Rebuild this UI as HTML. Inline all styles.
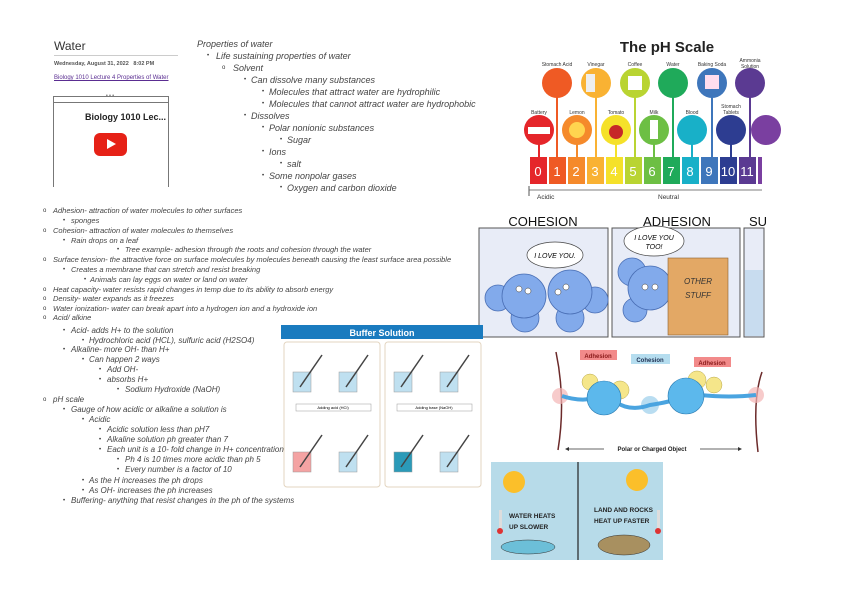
<!DOCTYPE html>
<html><head><meta charset="utf-8"><style>
body{margin:0;width:842px;height:595px;background:#fff;position:relative;overflow:hidden;font-family:"Liberation Sans",sans-serif}
.t{position:absolute;font-size:7.5px;line-height:10px;white-space:nowrap;color:#444;font-style:italic}
.top .t{font-size:9px;line-height:10px}
.low .t{font-size:8px}
.b{position:absolute;font-size:6px;line-height:10px;color:#333}
</style></head><body>
<div style="position:absolute;left:54px;top:39px;font-size:12px;color:#333">Water</div>
<div style="position:absolute;left:54px;top:55px;width:124px;height:1px;background:#ccc"></div>
<div style="position:absolute;left:54px;top:61px;font-size:5.5px;font-weight:bold;color:#555">Wednesday, August 31, 2022 &nbsp;&nbsp;8:02 PM</div>
<div style="position:absolute;left:54px;top:74px;font-size:6px;line-height:9px;color:#5a2d91;text-decoration:underline;width:115px">Biology 1010 Lecture 4 Properties of Water</div>
<div style="position:absolute;left:53px;top:96px;width:114px;height:90px;border:1px solid #777;border-bottom:none"></div>
<div style="position:absolute;left:53px;top:102px;width:115px;height:1px;background:#777"></div>
<div style="position:absolute;left:106px;top:93px;font-size:5px;color:#555">• • •</div>
<div style="position:absolute;left:85px;top:112px;font-size:9px;font-weight:bold;color:#222">Biology 1010 Lec...</div>
<div style="position:absolute;left:94px;top:133px;width:33px;height:23px;background:#e62117;border-radius:6px"></div>
<div style="position:absolute;left:107px;top:139px;width:0;height:0;border-left:9px solid #fff;border-top:5.5px solid transparent;border-bottom:5.5px solid transparent"></div>

<div class="top">
<div class="t" style="left:197px;top:39px">Properties of water</div>
<div class="b" style="left:207px;top:51px">•</div><div class="t" style="left:216px;top:51px">Life sustaining properties of water</div>
<div class="b" style="left:222px;top:63px">o</div><div class="t" style="left:233px;top:63px">Solvent</div>
<div class="b" style="left:244px;top:75px">•</div><div class="t" style="left:251px;top:75px">Can dissolve many substances</div>
<div class="b" style="left:262px;top:87px">•</div><div class="t" style="left:269px;top:87px">Molecules that attract water are hydrophilic</div>
<div class="b" style="left:262px;top:99px">•</div><div class="t" style="left:269px;top:99px">Molecules that cannot attract water are hydrophobic</div>
<div class="b" style="left:244px;top:111px">•</div><div class="t" style="left:251px;top:111px">Dissolves</div>
<div class="b" style="left:262px;top:123px">•</div><div class="t" style="left:269px;top:123px">Polar nonionic substances</div>
<div class="b" style="left:280px;top:135px">•</div><div class="t" style="left:287px;top:135px">Sugar</div>
<div class="b" style="left:262px;top:147px">•</div><div class="t" style="left:269px;top:147px">Ions</div>
<div class="b" style="left:280px;top:159px">•</div><div class="t" style="left:287px;top:159px">salt</div>
<div class="b" style="left:262px;top:171px">•</div><div class="t" style="left:269px;top:171px">Some nonpolar gases</div>
<div class="b" style="left:280px;top:183px">•</div><div class="t" style="left:287px;top:183px">Oxygen and carbon dioxide</div>
</div>

<div class="b" style="left:43px;top:206px">o</div><div class="t" style="left:53px;top:206px">Adhesion- attraction of water molecules to other surfaces</div>
<div class="b" style="left:63px;top:216px">•</div><div class="t" style="left:71px;top:216px">sponges</div>
<div class="b" style="left:43px;top:226px">o</div><div class="t" style="left:53px;top:226px">Cohesion- attraction of water molecules to themselves</div>
<div class="b" style="left:63px;top:236px">•</div><div class="t" style="left:71px;top:236px">Rain drops on a leaf</div>
<div class="b" style="left:117px;top:245px">•</div><div class="t" style="left:125px;top:245px">Tree example- adhesion through the roots and cohesion through the water</div>
<div class="b" style="left:43px;top:255px">o</div><div class="t" style="left:53px;top:255px">Surface tension- the attractive force on surface molecules by molecules beneath causing the least surface area possible</div>
<div class="b" style="left:63px;top:265px">•</div><div class="t" style="left:71px;top:265px">Creates a membrane that can stretch and resist breaking</div>
<div class="b" style="left:84px;top:275px">•</div><div class="t" style="left:90px;top:275px">Animals can lay eggs on water or land on water</div>
<div class="b" style="left:43px;top:285px">o</div><div class="t" style="left:53px;top:285px">Heat capacity- water resists rapid changes in temp due to its ability to absorb energy</div>
<div class="b" style="left:43px;top:294px">o</div><div class="t" style="left:53px;top:294px">Density- water expands as it freezes</div>
<div class="b" style="left:43px;top:304px">o</div><div class="t" style="left:53px;top:304px">Water ionization- water can break apart into a hydrogen ion and a hydroxide ion</div>
<div class="b" style="left:43px;top:313px">o</div><div class="t" style="left:53px;top:313px">Acid/ alkine</div>
<div class="low">
<div class="b" style="left:63px;top:326px">•</div><div class="t" style="left:71px;top:326px">Acid- adds H+ to the solution</div>
<div class="b" style="left:82px;top:336px">•</div><div class="t" style="left:89px;top:336px">Hydrochloric acid (HCL), sulfuric acid (H2SO4)</div>
<div class="b" style="left:63px;top:345px">•</div><div class="t" style="left:71px;top:345px">Alkaline- more OH- than H+</div>
<div class="b" style="left:82px;top:355px">•</div><div class="t" style="left:89px;top:355px">Can happen 2 ways</div>
<div class="b" style="left:99px;top:365px">•</div><div class="t" style="left:107px;top:365px">Add OH-</div>
<div class="b" style="left:99px;top:375px">•</div><div class="t" style="left:107px;top:375px">absorbs H+</div>
<div class="b" style="left:117px;top:385px">•</div><div class="t" style="left:125px;top:385px">Sodium Hydroxide (NaOH)</div>
<div class="b" style="left:43px;top:395px">o</div><div class="t" style="left:53px;top:395px">pH scale</div>
<div class="b" style="left:63px;top:405px">•</div><div class="t" style="left:71px;top:405px">Gauge of how acidic or alkaline a solution is</div>
<div class="b" style="left:82px;top:415px">•</div><div class="t" style="left:89px;top:415px">Acidic</div>
<div class="b" style="left:99px;top:425px">•</div><div class="t" style="left:107px;top:425px">Acidic solution less than pH7</div>
<div class="b" style="left:99px;top:435px">•</div><div class="t" style="left:107px;top:435px">Alkaline solution ph greater than 7</div>
<div class="b" style="left:99px;top:445px">•</div><div class="t" style="left:107px;top:445px">Each unit is a 10- fold change in H+ concentration</div>
<div class="b" style="left:117px;top:455px">•</div><div class="t" style="left:125px;top:455px">Ph 4 is 10 times more acidic than ph 5</div>
<div class="b" style="left:117px;top:465px">•</div><div class="t" style="left:125px;top:465px">Every number is a factor of 10</div>
<div class="b" style="left:82px;top:476px">•</div><div class="t" style="left:89px;top:476px">As the H increases the ph drops</div>
<div class="b" style="left:82px;top:486px">•</div><div class="t" style="left:89px;top:486px">As OH- increases the ph increases</div>
<div class="b" style="left:63px;top:496px">•</div><div class="t" style="left:71px;top:496px">Buffering- anything that resist changes in the ph of the systems</div>
</div>

<svg style="position:absolute;left:0;top:0" width="842" height="595" font-family="Liberation Sans, sans-serif">
<text x="667" y="52" font-size="15" font-weight="bold" text-anchor="middle" fill="#222">The pH Scale</text>
<g font-size="5" text-anchor="middle" fill="#333">
<text x="557" y="66">Stomach Acid</text><text x="596" y="66">Vinegar</text><text x="635" y="66">Coffee</text><text x="673" y="66">Water</text><text x="712" y="66">Baking Soda</text><text x="750" y="62">Ammonia</text><text x="750" y="68">Solution</text>
<text x="539" y="114">Battery</text><text x="577" y="114">Lemon</text><text x="616" y="114">Tomato</text><text x="654" y="114">Milk</text><text x="692" y="114">Blood</text><text x="731" y="108">Stomach</text><text x="731" y="114">Tablets</text>
</g>
<g stroke-width="2">
<line x1="557" y1="80" x2="557" y2="157" stroke="#ef5a24"/><line x1="596" y1="80" x2="596" y2="157" stroke="#f9b233"/><line x1="635" y1="80" x2="635" y2="157" stroke="#b9d432"/><line x1="673" y1="80" x2="673" y2="157" stroke="#1faa5a"/><line x1="712" y1="80" x2="712" y2="157" stroke="#3e76bb"/><line x1="750" y1="80" x2="750" y2="157" stroke="#5b3a92"/>
<line x1="539" y1="130" x2="539" y2="157" stroke="#e5262a"/><line x1="577" y1="130" x2="577" y2="157" stroke="#f58a2b"/><line x1="616" y1="130" x2="616" y2="157" stroke="#f5e12a"/><line x1="654" y1="130" x2="654" y2="157" stroke="#6dbf44"/><line x1="692" y1="130" x2="692" y2="157" stroke="#18b0c8"/><line x1="731" y1="130" x2="731" y2="157" stroke="#2d3d91"/>
</g>
<circle cx="557" cy="83" r="15" fill="#ef5a24"/><circle cx="596" cy="83" r="15" fill="#f9b233"/><circle cx="635" cy="83" r="15" fill="#b9d432"/><circle cx="673" cy="83" r="15" fill="#1faa5a"/><circle cx="712" cy="83" r="15" fill="#3e76bb"/><circle cx="750" cy="83" r="15" fill="#5b3a92"/>
<circle cx="539" cy="130" r="15" fill="#e5262a"/><circle cx="577" cy="130" r="15" fill="#f58a2b"/><circle cx="616" cy="130" r="15" fill="#f5e12a"/><circle cx="654" cy="130" r="15" fill="#6dbf44"/><circle cx="692" cy="130" r="15" fill="#18b0c8"/><circle cx="731" cy="130" r="15" fill="#2d3d91"/><circle cx="766" cy="130" r="15" fill="#7a3fa0"/>
<rect x="528" y="127" width="22" height="7" fill="#fff"/><rect x="586" y="74" width="9" height="18" fill="#eee"/><rect x="628" y="76" width="14" height="14" fill="#fff"/><rect x="705" y="75" width="14" height="14" fill="#fde"/><circle cx="616" cy="132" r="7" fill="#c62828"/><rect x="650" y="120" width="8" height="19" fill="#fff"/><circle cx="577" cy="130" r="8" fill="#ffd54f"/>
<g font-size="13" fill="#fff" text-anchor="middle">
<rect x="530" y="157" width="17" height="27" fill="#e5262a"/><text x="538" y="176">0</text>
<rect x="549" y="157" width="17" height="27" fill="#ef5a24"/><text x="557" y="176">1</text>
<rect x="568" y="157" width="17" height="27" fill="#f58a2b"/><text x="576" y="176">2</text>
<rect x="587" y="157" width="17" height="27" fill="#f9b233"/><text x="595" y="176">3</text>
<rect x="606" y="157" width="17" height="27" fill="#f5e12a"/><text x="614" y="176">4</text>
<rect x="625" y="157" width="17" height="27" fill="#b9d432"/><text x="633" y="176">5</text>
<rect x="644" y="157" width="17" height="27" fill="#6dbf44"/><text x="652" y="176">6</text>
<rect x="663" y="157" width="17" height="27" fill="#1faa5a"/><text x="671" y="176">7</text>
<rect x="682" y="157" width="17" height="27" fill="#18b0c8"/><text x="690" y="176">8</text>
<rect x="701" y="157" width="17" height="27" fill="#3e76bb"/><text x="709" y="176">9</text>
<rect x="720" y="157" width="17" height="27" fill="#2d3d91"/><text x="728" y="176">10</text>
<rect x="739" y="157" width="17" height="27" fill="#5b3a92"/><text x="747" y="176">11</text>
<rect x="758" y="157" width="4" height="27" fill="#7a3fa0"/>
</g>
<line x1="529" y1="190" x2="762" y2="190" stroke="#555" stroke-width="0.8"/><line x1="529" y1="186" x2="529" y2="196" stroke="#555"/>
<text x="537" y="199" font-size="6.5" fill="#333">Acidic</text><text x="658" y="199" font-size="6.5" fill="#333">Neutral</text>

<g font-size="13" fill="#111" text-anchor="middle"><text x="543" y="226">COHESION</text><text x="677" y="226">ADHESION</text><text x="758" y="226">SU</text></g>
<rect x="479" y="228" width="129" height="109" fill="#e8ecf7" stroke="#555"/>
<rect x="612" y="228" width="128" height="109" fill="#e8ecf7" stroke="#555"/>
<rect x="744" y="228" width="20" height="109" fill="#e8ecf7" stroke="#555"/><rect x="745" y="270" width="18" height="66" fill="#c8dcef"/>
<g fill="#82aaeb" stroke="#4a6fb5" stroke-width="0.8">
<circle cx="498" cy="298" r="13"/><circle cx="525" cy="318" r="14"/><circle cx="524" cy="296" r="22"/>
<circle cx="595" cy="300" r="13"/><circle cx="570" cy="318" r="14"/><circle cx="570" cy="292" r="22"/>
<circle cx="632" cy="272" r="14"/><circle cx="635" cy="310" r="12"/><circle cx="650" cy="288" r="22"/>
</g>
<g fill="#fff" stroke="#333" stroke-width="0.5"><circle cx="519" cy="289" r="3"/><circle cx="528" cy="291" r="3"/><circle cx="558" cy="292" r="3"/><circle cx="566" cy="287" r="3"/><circle cx="645" cy="287" r="3"/><circle cx="655" cy="287" r="3"/></g>
<ellipse cx="555" cy="255" rx="28" ry="13" fill="#fff" stroke="#444" stroke-width="0.7"/>
<text x="555" y="258" font-size="7" font-style="italic" text-anchor="middle">I LOVE YOU.</text>
<ellipse cx="654" cy="241" rx="30" ry="15" fill="#fff" stroke="#444" stroke-width="0.7"/>
<text x="654" y="240" font-size="7" font-style="italic" text-anchor="middle">I LOVE YOU</text><text x="654" y="249" font-size="7" font-style="italic" text-anchor="middle">TOO!</text>
<rect x="668" y="258" width="60" height="77" fill="#e3a865" stroke="#8a6030" stroke-width="0.6"/>
<text x="698" y="284" font-size="8" font-style="italic" text-anchor="middle" fill="#333">OTHER</text><text x="698" y="298" font-size="8" font-style="italic" text-anchor="middle" fill="#333">STUFF</text>

<rect x="281" y="325" width="202" height="14" fill="#1a7bbf"/>
<text x="382" y="336" font-size="9" font-weight="bold" fill="#fff" text-anchor="middle">Buffer Solution</text>
<rect x="284" y="342" width="96" height="145" rx="3" fill="#fff" stroke="#e3d5c0"/>
<rect x="385" y="342" width="96" height="145" rx="3" fill="#fff" stroke="#e3d5c0"/>
<g fill="#bfe0f0" stroke="#999" stroke-width="0.5">
<rect x="293" y="372" width="18" height="20"/><rect x="339" y="372" width="18" height="20"/><rect x="394" y="372" width="18" height="20"/><rect x="440" y="372" width="18" height="20"/>
<rect x="339" y="452" width="18" height="20"/><rect x="440" y="452" width="18" height="20"/>
<rect x="293" y="452" width="18" height="20" fill="#f4a3a3"/><rect x="394" y="452" width="18" height="20" fill="#2b9ab8"/>
</g>
<g stroke="#444" stroke-width="1.5"><line x1="300" y1="387" x2="322" y2="355"/><line x1="346" y1="387" x2="368" y2="355"/><line x1="401" y1="387" x2="423" y2="355"/><line x1="447" y1="387" x2="469" y2="355"/><line x1="300" y1="467" x2="322" y2="435"/><line x1="346" y1="467" x2="368" y2="435"/><line x1="401" y1="467" x2="423" y2="435"/><line x1="447" y1="467" x2="469" y2="435"/></g>
<rect x="296" y="404" width="75" height="7" fill="#fff" stroke="#999" stroke-width="0.5"/><rect x="397" y="404" width="75" height="7" fill="#fff" stroke="#999" stroke-width="0.5"/>
<text x="333" y="409" font-size="4" text-anchor="middle">Adding acid (HCl)</text><text x="434" y="409" font-size="4" text-anchor="middle">Adding base (NaOH)</text>

<path d="M556 352 Q566 400 558 450" stroke="#6b2a2a" stroke-width="1.5" fill="none"/>
<path d="M762 372 Q752 400 758 452" stroke="#6b2a2a" stroke-width="1.5" fill="none"/>
<circle cx="560" cy="396" r="8" fill="#f4b5b5" opacity="0.7"/><circle cx="756" cy="395" r="8" fill="#f4b5b5" opacity="0.7"/>
<circle cx="650" cy="405" r="9" fill="#a8d4ee" opacity="0.8"/>
<path d="M562 396 Q580 402 596 398 M616 402 Q630 412 650 405 Q670 402 680 398 M700 395 Q730 398 756 395" stroke="#4aa4e0" stroke-width="4" fill="none"/>
<circle cx="590" cy="382" r="8" fill="#f5e68a" stroke="#b9a84a" stroke-width="0.5"/><circle cx="620" cy="390" r="9" fill="#f5e68a" stroke="#b9a84a" stroke-width="0.5"/>
<circle cx="604" cy="398" r="17" fill="#5cb8ec" stroke="#2a7ab0" stroke-width="0.6"/>
<circle cx="697" cy="380" r="9" fill="#f5e68a" stroke="#b9a84a" stroke-width="0.5"/><circle cx="714" cy="385" r="8" fill="#f5e68a" stroke="#b9a84a" stroke-width="0.5"/>
<circle cx="686" cy="396" r="18" fill="#5cb8ec" stroke="#2a7ab0" stroke-width="0.6"/>
<rect x="580" y="350" width="37" height="10" fill="#f28a8a"/><text x="598" y="358" font-size="6" font-weight="bold" text-anchor="middle" fill="#8a1a1a">Adhesion</text>
<rect x="631" y="354" width="39" height="10" fill="#b5ddef"/><text x="650" y="362" font-size="6" font-weight="bold" text-anchor="middle" fill="#235">Cohesion</text>
<rect x="694" y="357" width="37" height="10" fill="#f28a8a"/><text x="712" y="365" font-size="6" font-weight="bold" text-anchor="middle" fill="#8a1a1a">Adhesion</text>
<line x1="567" y1="449" x2="604" y2="449" stroke="#333" stroke-width="0.8"/><line x1="700" y1="449" x2="740" y2="449" stroke="#333" stroke-width="0.8"/>
<path d="M565 449 l4 -2 v4z M742 449 l-4 -2 v4z" fill="#333"/>
<text x="652" y="451" font-size="6" font-weight="bold" text-anchor="middle" fill="#222">Polar or Charged Object</text>

<rect x="491" y="462" width="172" height="98" fill="#b7dbe9"/>
<line x1="578" y1="462" x2="578" y2="560" stroke="#222" stroke-width="1.2"/>
<circle cx="514" cy="482" r="11" fill="#fbbf2a"/><circle cx="637" cy="480" r="11" fill="#fbbf2a"/>
<g font-size="6.5" font-weight="bold" fill="#222"><text x="509" y="518">WATER HEATS</text><text x="509" y="529">UP SLOWER</text><text x="594" y="512">LAND AND ROCKS</text><text x="594" y="523">HEAT UP FASTER</text></g>
<rect x="499" y="510" width="3" height="20" fill="#ddd"/><circle cx="500" cy="531" r="3" fill="#d33"/>
<rect x="657" y="510" width="3" height="20" fill="#ddd"/><circle cx="658" cy="531" r="3" fill="#d33"/>
<ellipse cx="528" cy="547" rx="27" ry="7" fill="#6cbfd8" stroke="#333" stroke-width="0.5"/>
<ellipse cx="624" cy="545" rx="26" ry="10" fill="#a89060" stroke="#333" stroke-width="0.5"/>
</svg>
</body></html>
